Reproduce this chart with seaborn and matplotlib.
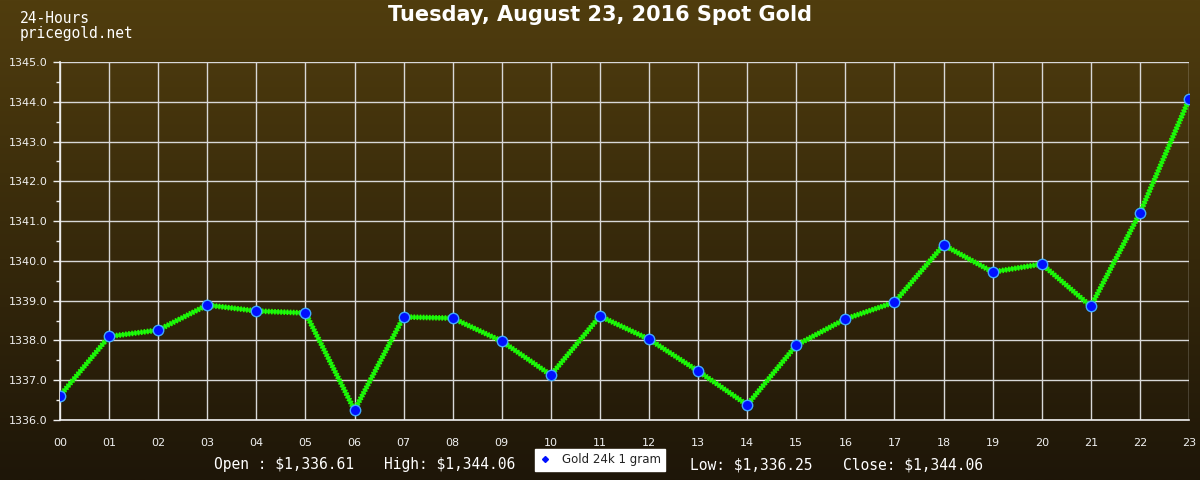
import numpy as np
import pandas as pd
import matplotlib
matplotlib.use("Agg")
import matplotlib.pyplot as plt
from matplotlib.lines import Line2D
import seaborn as sns

hours = ["00", "01", "02", "03", "04", "05", "06", "07", "08", "09", "10", "11",
         "12", "13", "14", "15", "16", "17", "18", "19", "20", "21", "22", "23"]
prices = [1336.61, 1338.10, 1338.26, 1338.89, 1338.74, 1338.69, 1336.25, 1338.59,
          1338.56, 1337.98, 1337.13, 1338.61, 1338.03, 1337.23, 1336.38, 1337.88,
          1338.54, 1338.96, 1340.40, 1339.72, 1339.92, 1338.86, 1341.20, 1344.06]
y_ticks = [1336.0, 1337.0, 1338.0, 1339.0, 1340.0, 1341.0, 1342.0, 1343.0, 1344.0, 1345.0]
title = "Tuesday, August 23, 2016 Spot Gold"
series_name = "Gold 24k 1 gram"
open_txt = "Open : $1,336.61"
high_txt = "High: $1,344.06"
low_txt = "Low: $1,336.25"
close_txt = "Close: $1,344.06"

df = pd.DataFrame({"x": np.arange(len(hours)), "price": prices})

sns.set_style("dark")
plt.rcParams['font.family'] = ['DejaVu Sans']

fig = plt.figure(figsize=(12, 4.8), dpi=100)

# background gradient
bg = fig.add_axes([0, 0, 1, 1], zorder=-10)
top = np.array([80, 61, 14]) / 255.0
bot = np.array([30, 22, 8]) / 255.0
t = np.linspace(0, 1, 256)[:, None]
grad = (top[None, :] * (1 - t) + bot[None, :] * t)[:, None, :]
bg.imshow(grad, aspect="auto", extent=[0, 1, 0, 1])
bg.axis("off")

ax = fig.add_axes([60 / 1200, 1 - 420 / 480, (1189 - 60) / 1200, (420 - 62) / 480])
ax.set_facecolor("none")

# textured green line: solid core plus dense dashes
sns.lineplot(data=df, x="x", y="price", ax=ax, color="#14e814", linewidth=2.6,
             zorder=3, legend=False)
sns.lineplot(data=df, x="x", y="price", ax=ax, color="#22ff00", linewidth=4.0,
             zorder=3, legend=False)
ax.lines[-1].set_dashes([0.28, 0.28])
ax.lines[-1].set_dash_capstyle("butt")
ax.plot(df["x"], df["price"], linestyle="none", marker="o", markersize=7.5,
        markerfacecolor="#0010ff", markeredgecolor="#40a8ff", markeredgewidth=1.0,
        zorder=4)

ax.set_xlim(0, 23)
ax.set_ylim(1336, 1345)
ax.set_xticks(np.arange(len(hours)))
ax.set_xticklabels(hours)
ax.set_yticks(y_ticks)
ax.set_yticklabels([f"{v:.1f}" for v in y_ticks])
ax.set_yticks(np.arange(1336.5, 1345, 1.0), minor=True)
ax.grid(True, which="major", color="#d8d8d8", linewidth=1.0)
ax.grid(False, which="minor")
ax.set_axisbelow(True)
for s in ["top", "right"]:
    ax.spines[s].set_visible(False)
for s in ["left", "bottom"]:
    ax.spines[s].set_visible(True)
    ax.spines[s].set_color("#f0f0f0")
    ax.spines[s].set_linewidth(1.2)
ax.tick_params(axis="both", which="major", colors="#f0f0f0", labelsize=8,
               length=5, width=1, direction="out", left=True, bottom=False, pad=4)
ax.tick_params(axis="y", which="minor", colors="#f0f0f0", length=3, width=1, left=True)
ax.tick_params(axis="x", pad=8)
ax.set_xlabel("")
ax.set_ylabel("")

fig.text(0.5, 1 - 15 / 480, title, ha="center", va="center", color="white",
         fontsize=15, fontweight="bold")
fig.text(20 / 1200, 1 - 11 / 480, "24-Hours\npricegold.net", ha="left", va="top",
         color="white", fontsize=10.5, family="DejaVu Sans Mono", linespacing=1.0)

ybot = 1 - 465 / 480
fig.text(214 / 1200, ybot, open_txt, ha="left", va="center", color="white",
         fontsize=10.5, family="DejaVu Sans Mono")
fig.text(384 / 1200, ybot, high_txt, ha="left", va="center", color="white",
         fontsize=10.5, family="DejaVu Sans Mono")
fig.text(690 / 1200, ybot, low_txt, ha="left", va="center", color="white",
         fontsize=10.5, family="DejaVu Sans Mono")
fig.text(843 / 1200, ybot, close_txt, ha="left", va="center", color="white",
         fontsize=10.5, family="DejaVu Sans Mono")

handle = Line2D([], [], linestyle="none", marker="D", markersize=3,
                markerfacecolor="#0010ff", markeredgecolor="#0010ff")
leg = fig.legend([handle], [series_name], loc="center",
                 bbox_to_anchor=(600 / 1200, 1 - 460 / 480), frameon=True,
                 fancybox=False, framealpha=1, facecolor="white", edgecolor="white",
                 fontsize=8.5, handlelength=1.0, handletextpad=1.0,
                 borderpad=0.35, borderaxespad=0)
for txt in leg.get_texts():
    txt.set_color("#222222")

fig.savefig("out.png", dpi=100)
